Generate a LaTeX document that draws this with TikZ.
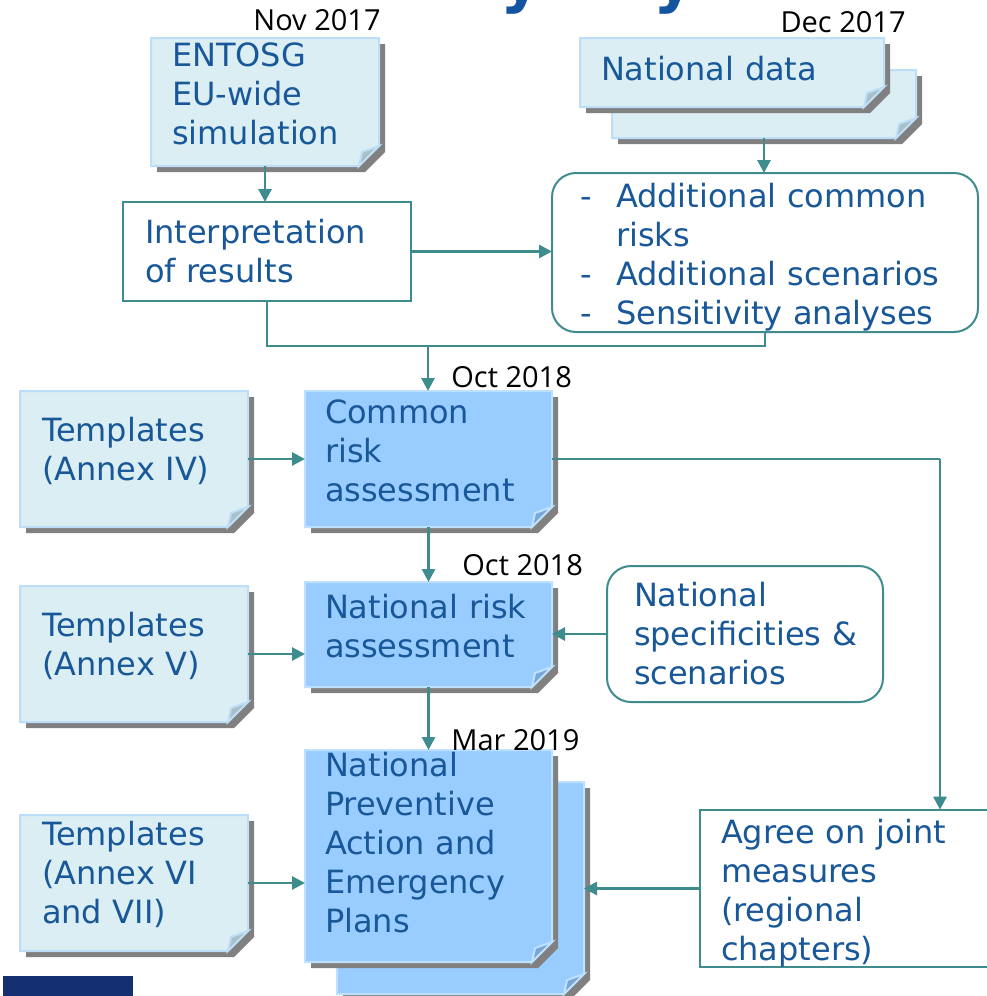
\documentclass[tikz,border=0pt]{standalone}
\usepackage{fontspec}
\setmainfont{DejaVu Sans}
\newfontfamily\datefont{Open Sans}
\usetikzlibrary{arrows.meta,backgrounds,calc}
\definecolor{textblue}{RGB}{25,88,152}
\definecolor{titleblue}{RGB}{20,84,160}
\definecolor{linkteal}{RGB}{62,140,142}
\definecolor{lightfill}{RGB}{218,238,243}
\definecolor{lightedge}{RGB}{190,222,248}
\definecolor{lightflap}{RGB}{168,192,198}
\definecolor{bluefill}{RGB}{153,204,255}
\definecolor{blueedge}{RGB}{190,225,255}
\definecolor{blueflap}{RGB}{122,166,212}
\definecolor{shadowgray}{RGB}{128,128,128}
\definecolor{footnavy}{RGB}{21,48,112}
\tikzset{
  boxtext/.style={text=textblue, font=\fontsize{16pt}{19.5pt}\selectfont, align=left, inner ysep=0pt, outer sep=0pt},
  card/.style={boxtext, text height=4pt},
  tealbox/.style={boxtext, draw=linkteal, line width=1pt, fill=white},
  roundbox/.style={tealbox, rounded corners=12pt},
  datelbl/.style={font=\datefont\fontsize{14.5pt}{17pt}\selectfont, inner sep=0pt},
  wire/.style={draw=linkteal, line width=1.4pt},
  link/.style={wire, -{Triangle[width=6.5pt,length=6.5pt]}},
  lightcard/.style={fill=lightfill, draw=lightedge, line width=1pt},
  bluecard/.style={fill=bluefill, draw=blueedge, line width=1pt},
}
\begin{document}
\begin{tikzpicture}[x=0.5pt,y=-0.5pt]
	\useasboundingbox (0,0) rectangle (986,996);
	% title (cut off at the top)
	\node[font=\bfseries\fontsize{32pt}{32pt}\selectfont, text=titleblue, anchor=base west, inner sep=0pt] (ttla) at (500,0) {y};
	\node[font=\bfseries\fontsize{32pt}{32pt}\selectfont, text=titleblue, anchor=base west, inner sep=0pt] (ttlb) at (653,0) {y};
	% cards
	\node[card, minimum width=114pt, minimum height=64pt, text width=93pt, inner xsep=10.5pt] (entosg) at (265,102) {ENTOSG\\EU-wide\\simulation};
	\node[card, minimum width=152pt, minimum height=34pt] (ndback) at (764,104) {};
	\node[card, text height=8pt, minimum width=152pt, minimum height=34.5pt, text width=131pt, inner xsep=10.5pt] (ndata) at (732,72.5) {National data};
	\node[card, minimum width=114pt, minimum height=68pt, text width=92pt, inner xsep=11pt] (t4) at (134,459) {Templates\\(Annex IV)};
	\node[card, minimum width=123.5pt, minimum height=68pt, text width=103.5pt, inner xsep=10pt] (cra) at (428.5,459) {Common\\risk\\assessment};
	\node[card, minimum width=114pt, minimum height=68pt, text width=92pt, inner xsep=11pt] (t5) at (134,654) {Templates\\(Annex V)};
	\node[card, minimum width=123.5pt, minimum height=52.5pt, text width=103.5pt, inner xsep=10pt] (nra) at (428.5,634.5) {National~risk\\assessment};
	\node[card, minimum width=114pt, minimum height=68pt, text width=92pt, inner xsep=11pt] (t6) at (134,883) {Templates\\(Annex VI\\and VII)};
	\node[card, minimum width=123.5pt, minimum height=106pt] (npback) at (460.5,888) {};
	\node[card, text depth=84pt, minimum width=123.5pt, minimum height=106pt, text width=103.5pt, inner xsep=10pt] (npa) at (428.5,856) {National\\Preventive\\Action and\\Emergency\\Plans};
	% plain boxes
	\node[tealbox, minimum width=144pt, minimum height=49.5pt, text width=122pt, inner xsep=11pt] (interp) at (267,251.5) {Interpretation\\of results};
	\node[roundbox, text height=17pt, minimum width=213pt, minimum height=79.5pt, text width=185pt, inner xsep=14pt] (addl) at (765,252.5) {\makebox[18pt][l]{-}Additional common\\\hspace*{18pt}risks\\\makebox[18pt][l]{-}Additional scenarios\\\makebox[18pt][l]{-}Sensitivity analyses};
	\node[roundbox, minimum width=138pt, minimum height=68pt, text width=111pt, inner xsep=13.5pt] (nspec) at (745,634) {National\\specificities~\&\\scenarios};
	\node[tealbox, text height=17pt, minimum width=160pt, minimum height=77.5pt, text width=139pt, inner xsep=10.5pt] (agree) at (860,888.5) {Agree on joint\\measures\\(regional\\chapters)};
	% dates
	\node[datelbl, anchor=east] (nov) at (381,20) {Nov 2017};
	\node[datelbl, anchor=east] (dec) at (906,22) {Dec 2017};
	\node[datelbl, anchor=west] (octa) at (451,377) {Oct 2018};
	\node[datelbl, anchor=west] (octb) at (462,565) {Oct 2018};
	\node[datelbl, anchor=west] (mar) at (451,740) {Mar 2019};
	% shadows, sheets and folded corners
	\begin{scope}[on background layer]
		\foreach \n/\s/\f in {entosg/lightcard/lightflap, ndback/lightcard/lightflap, ndata/lightcard/lightflap, t4/lightcard/lightflap, cra/bluecard/blueflap, t5/lightcard/lightflap, nra/bluecard/blueflap, t6/lightcard/lightflap, npback/bluecard/blueflap, npa/bluecard/blueflap}{
			\fill[shadowgray, transform canvas={shift={(3pt,-3pt)}}] (\n.north west) -- (\n.north east) -- ([yshift=10pt]\n.south east) -- ([xshift=-10pt]\n.south east) -- (\n.south west) -- cycle;
			\filldraw[\s] (\n.north west) -- (\n.north east) -- ([yshift=10pt]\n.south east) -- ([xshift=-10pt]\n.south east) -- (\n.south west) -- cycle;
			\filldraw[\s, fill=\f] ([yshift=10pt]\n.south east) -- ([xshift=-10pt]\n.south east) -- ([xshift=-8.5pt,yshift=7pt]\n.south east) -- cycle;
		}
	\end{scope}
	% connectors
	\coordinate (jn) at (428,346);
	\coordinate (jr) at (940,459);
	\draw[link] (entosg.south) -- (entosg.south |- interp.north);
	\draw[link] (interp.east) -- (interp.east -| addl.west);
	\draw[link] (ndback.south) -- (ndback.south |- addl.north);
	\draw[wire] (interp.south) |- (jn);
	\draw[wire] (addl.south) |- (jn);
	\draw[link] (jn) -- (jn |- cra.north);
	\draw[link] (t4.east) -- (cra.west);
	\draw[wire] (cra.east) -- (jr);
	\draw[link] (jr) -- (jr |- agree.north);
	\draw[link] (cra.south) -- (nra.north);
	\draw[link] (t5.east) -- (t5.east -| nra.west);
	\draw[link] (nspec.west) -- (nspec.west -| nra.east);
	\draw[link] (nra.south) -- (npa.north);
	\draw[link] (t6.east) -- (t6.east -| npa.west);
	\draw[link] (agree.west) -- (agree.west -| npback.east);
	% footer bar
	\fill[footnavy] (3,976) rectangle (133,1000);
\end{tikzpicture}
\end{document}
